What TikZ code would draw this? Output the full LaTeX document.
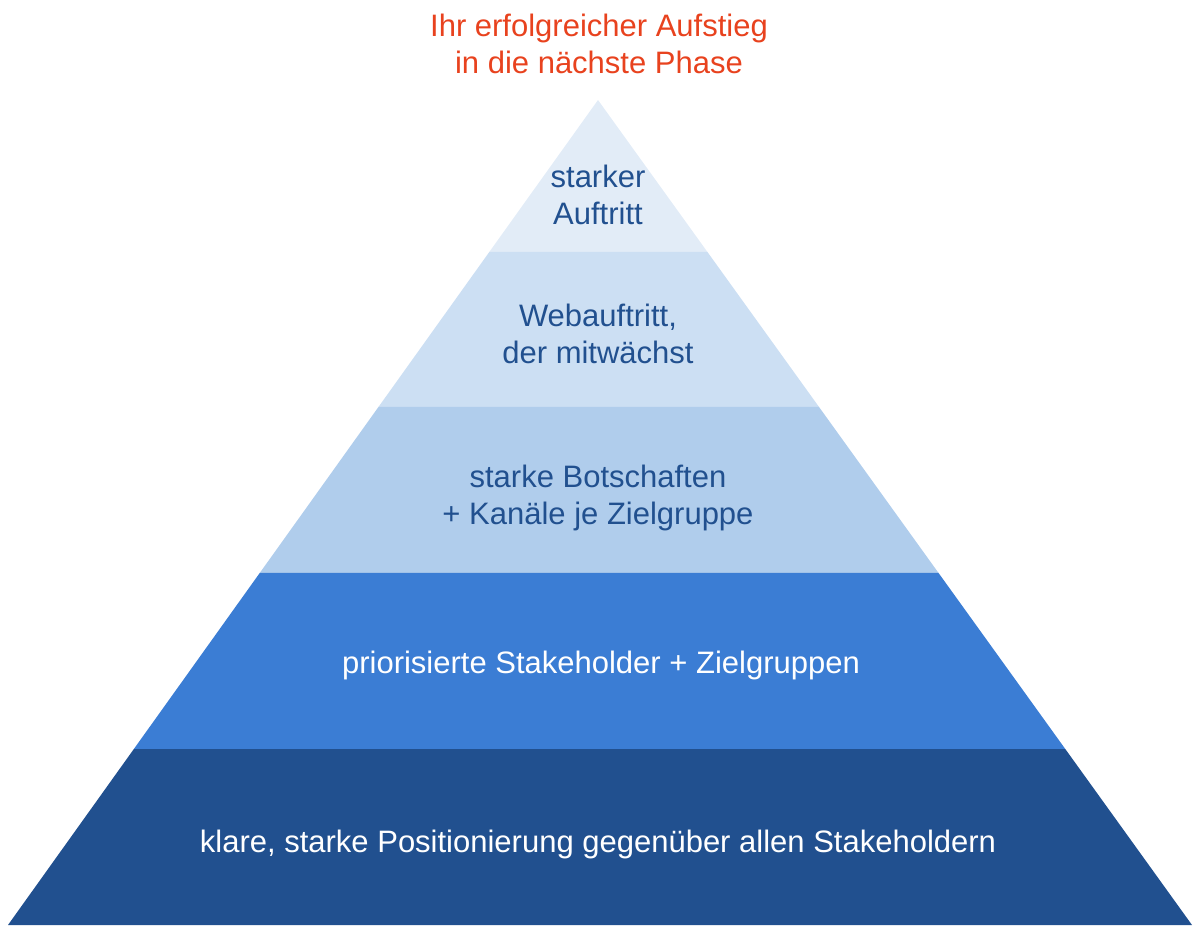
\documentclass[tikz,border=0pt]{standalone}
\usepackage{fontspec}
\setmainfont{Liberation Sans}
\usetikzlibrary{calc}
\definecolor{lay1}{HTML}{E2ECF7}
\definecolor{lay2}{HTML}{CCDFF3}
\definecolor{lay3}{HTML}{B0CDEC}
\definecolor{lay4}{HTML}{3B7DD4}
\definecolor{lay5}{HTML}{21508F}
\definecolor{txtdark}{HTML}{21508F}
\definecolor{titlered}{HTML}{E8421E}
\begin{document}
\begin{tikzpicture}[x=1pt,y=-1pt,
  lbl/.style={align=center,inner sep=0pt,font=\fontsize{31}{37.5}\selectfont},
  darklbl/.style={lbl,text=txtdark},
  lightlbl/.style={lbl,text=white}]
\useasboundingbox (0,0) rectangle (1200,934);
\coordinate (A) at (598,100);
\coordinate (BL) at (8,925);
\coordinate (BR) at (1192,925);
\coordinate (L1) at ($(A)!0.1842!(BL)$);
\coordinate (R1) at ($(A)!0.1842!(BR)$);
\coordinate (L2) at ($(A)!0.3721!(BL)$);
\coordinate (R2) at ($(A)!0.3721!(BR)$);
\coordinate (L3) at ($(A)!0.5733!(BL)$);
\coordinate (R3) at ($(A)!0.5733!(BR)$);
\coordinate (L4) at ($(A)!0.7867!(BL)$);
\coordinate (R4) at ($(A)!0.7867!(BR)$);
\fill[lay1] (A) -- (L1) -- (R1) -- cycle;
\fill[lay2] (L1) -- (L2) -- (R2) -- (R1) -- cycle;
\fill[lay3] (L2) -- (L3) -- (R3) -- (R2) -- cycle;
\fill[lay4] (L3) -- (L4) -- (R4) -- (R3) -- cycle;
\fill[lay5] (L4) -- (BL) -- (BR) -- (R4) -- cycle;
\node[lbl,text=titlered] (title) at (599,44) {Ihr erfolgreicher Aufstieg\\in die nächste Phase};
\node[darklbl] (t1) at (598,195) {starker\\Auftritt};
\node[darklbl] (t2) at (598,334) {Webauftritt,\\der mitwächst};
\node[darklbl] (t3) at (598,498) {starke Botschaften\\+ Kanäle je Zielgruppe};
\node[lightlbl] (t4) at (601,665) {priorisierte Stakeholder + Zielgruppen};
\node[lightlbl] (t5) at (598,844) {klare, starke Positionierung gegenüber allen Stakeholdern};
\end{tikzpicture}
\end{document}
